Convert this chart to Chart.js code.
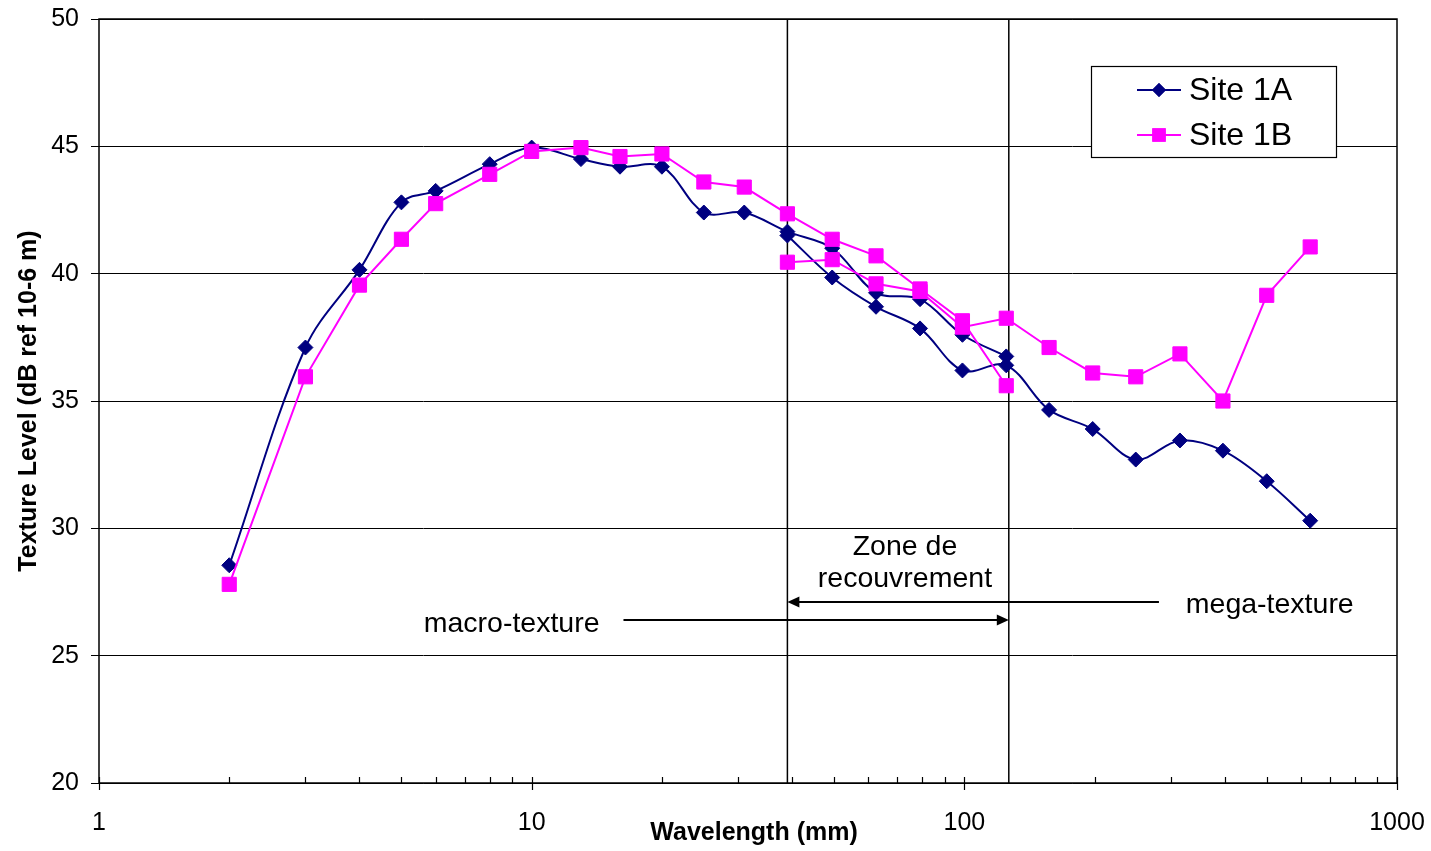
<!DOCTYPE html>
<html><head><meta charset="utf-8">
<script src="https://cdn.jsdelivr.net/npm/chart.js@4"></script>
<style>html,body{margin:0;padding:0;background:#fff;overflow:hidden}</style>
</head><body>
<canvas id="c" width="1431" height="851" style="width:1431px;height:851px;display:block"></canvas>
<script>
// ---- data ----
const waveMacro = [2, 3, 4, 5, 6, 8, 10, 13, 16, 20, 25, 31, 39, 49.5, 62.5, 79, 99, 125];
const site1A_macro = [28.55, 37.1, 40.15, 42.8, 43.25, 44.3, 44.95, 44.5, 44.2, 44.2, 42.4, 42.4, 41.65, 41.0, 39.25, 39.0, 37.6, 36.75];
const site1B_macro = [27.8, 35.95, 39.55, 41.35, 42.75, 43.9, 44.8, 44.95, 44.6, 44.7, 43.6, 43.4, 42.35, 41.35, 40.7, 39.4, 38.15, 35.6];
const waveMega = [39, 49.5, 62.5, 79, 99, 125, 157, 198, 249, 315, 396, 500, 630];
const site1A_mega = [41.5, 39.85, 38.7, 37.85, 36.2, 36.4, 34.65, 33.9, 32.7, 33.45, 33.05, 31.85, 30.3];
const site1B_mega = [40.45, 40.55, 39.6, 39.3, 37.9, 38.25, 37.1, 36.1, 35.95, 36.85, 35.0, 39.15, 41.05];
const overlapBounds = [39, 126.7];
const xMajorTicks = [1, 10, 100, 1000];
const yTicks = [20, 25, 30, 35, 40, 45, 50];
const seriesNames = ['Site 1A', 'Site 1B'];

const FONT = "'Liberation Sans', Arial, sans-serif";
const C1A = '#000080', C1B = '#FF00FF';

function pts(xs, ys) { return xs.map((x, i) => ({x: x, y: ys[i]})); }

const styleA = {borderColor: C1A, backgroundColor: C1A, borderWidth: 2, pointStyle: 'rectRot', pointRadius: 7.5, pointBorderWidth: 1, pointBorderColor: C1A, tension: 0.35, order: 2};
const styleB = {borderColor: C1B, backgroundColor: C1B, borderWidth: 2, pointStyle: 'rect', pointRadius: 10, pointBorderWidth: 1, pointBorderColor: C1B, tension: 0, order: 1};

const datasets = [
  Object.assign({label: seriesNames[0], data: pts(waveMacro, site1A_macro)}, styleA),
  Object.assign({label: seriesNames[0] + ' mega', data: pts(waveMega, site1A_mega)}, styleA),
  Object.assign({label: seriesNames[1], data: pts(waveMacro, site1B_macro)}, styleB),
  Object.assign({label: seriesNames[1] + ' mega', data: pts(waveMega, site1B_mega)}, styleB),
];
overlapBounds.forEach((b, i) => datasets.push({
  label: 'bound' + i, data: [{x: b, y: 20}, {x: b, y: 50}],
  borderColor: '#000', borderWidth: 1.5, pointRadius: 0, tension: 0, order: 5
}));

// annotation anchors in data units
const notes = {
  zone1: {text: 'Zone de', x: 72.9, y: 28.96},
  zone2: {text: 'recouvrement', x: 72.9, y: 27.71},
  macro: {text: 'macro-texture', x: 14.35, y: 25.94},
  mega: {text: 'mega-texture', x: 325, y: 26.68},
  megaArrow: {x0: 281.7, x1: 39.0, y: 27.09},
  macroArrow: {x0: 16.3, x1: 126.7, y: 26.40}
};

function arrow(ctx, x0, x1, y) {
  ctx.beginPath(); ctx.moveTo(x0, y); ctx.lineTo(x1 - Math.sign(x1 - x0) * 8, y); ctx.stroke();
  const d = Math.sign(x1 - x0);
  ctx.beginPath(); ctx.moveTo(x1, y); ctx.lineTo(x1 - d * 12, y - 5.5); ctx.lineTo(x1 - d * 12, y + 5.5); ctx.closePath(); ctx.fill();
}

function noPad(s) { s.paddingTop = 0; s.paddingBottom = 0; s.paddingLeft = 0; s.paddingRight = 0; }

const decor = {
  id: 'decor',
  afterDatasetsDraw(chart) {
    const ctx = chart.ctx, a = chart.chartArea, xs = chart.scales.x, ys = chart.scales.y;
    ctx.save();
    // frame
    ctx.strokeStyle = '#000'; ctx.lineWidth = 1.5;
    ctx.strokeRect(a.left, a.top, a.right - a.left, a.bottom - a.top);
    // x ticks: major crossing, minor inside
    ctx.lineWidth = 1.2;
    ctx.beginPath();
    for (let d = 1; d < 1000; d *= 10) {
      for (let m = 2; m <= 9; m++) {
        const px = Math.round(xs.getPixelForValue(d * m)) + 0.5;
        ctx.moveTo(px, a.bottom); ctx.lineTo(px, a.bottom - 6);
      }
    }
    xMajorTicks.forEach(v => {
      const px = Math.round(xs.getPixelForValue(v)) + 0.5;
      ctx.moveTo(px, a.bottom - 6); ctx.lineTo(px, a.bottom + 7);
    });
    ctx.stroke();
    // annotations
    ctx.fillStyle = '#000'; ctx.font = '28.5px ' + FONT; ctx.textBaseline = 'alphabetic';
    ctx.textAlign = 'center';
    ctx.fillText(notes.zone1.text, xs.getPixelForValue(notes.zone1.x), ys.getPixelForValue(notes.zone1.y));
    ctx.fillText(notes.zone2.text, xs.getPixelForValue(notes.zone2.x), ys.getPixelForValue(notes.zone2.y));
    ctx.textAlign = 'right';
    ctx.fillText(notes.macro.text, xs.getPixelForValue(notes.macro.x), ys.getPixelForValue(notes.macro.y));
    ctx.textAlign = 'left';
    ctx.fillText(notes.mega.text, xs.getPixelForValue(notes.mega.x), ys.getPixelForValue(notes.mega.y));
    ctx.strokeStyle = '#000'; ctx.lineWidth = 2;
    arrow(ctx, xs.getPixelForValue(notes.megaArrow.x0), xs.getPixelForValue(notes.megaArrow.x1), Math.round(ys.getPixelForValue(notes.megaArrow.y)));
    arrow(ctx, xs.getPixelForValue(notes.macroArrow.x0), xs.getPixelForValue(notes.macroArrow.x1), Math.round(ys.getPixelForValue(notes.macroArrow.y)));
    // legend
    const lx = a.right - 306, ly = a.top + 47, lw = 245, lh = 91;
    ctx.fillStyle = '#fff'; ctx.fillRect(lx, ly, lw, lh);
    ctx.strokeStyle = '#000'; ctx.lineWidth = 1.2; ctx.strokeRect(lx + 0.5, ly + 0.5, lw, lh);
    const entries = [datasets[0], datasets[2]];
    entries.forEach((ds, i) => {
      const cy = ly + 24 + i * 45;
      ctx.strokeStyle = ds.borderColor; ctx.lineWidth = 2;
      ctx.beginPath(); ctx.moveTo(lx + 46, cy); ctx.lineTo(lx + 90, cy); ctx.stroke();
      ctx.fillStyle = ds.backgroundColor;
      Chart.helpers.drawPoint(ctx, {pointStyle: ds.pointStyle, radius: ds.pointStyle === 'rect' ? 9.5 : 7, borderWidth: 0, rotation: 0}, lx + 68, cy);
      ctx.fill();
      ctx.fillStyle = '#000'; ctx.font = '32px ' + FONT; ctx.textAlign = 'left'; ctx.textBaseline = 'middle';
      ctx.fillText(ds.label, lx + 98, cy + 1);
    });
    // x axis title (drawn here for exact horizontal placement)
    ctx.fillStyle = '#000'; ctx.font = 'bold 25px ' + FONT; ctx.textAlign = 'center'; ctx.textBaseline = 'middle';
    ctx.fillText('Wavelength (mm)', xs.getPixelForValue(Math.pow(10, 1.514)), a.bottom + 50);
    ctx.restore();
  }
};

new Chart(document.getElementById('c'), {
  type: 'line',
  data: {datasets: datasets},
  plugins: [decor],
  options: {
    responsive: false, animation: false, devicePixelRatio: 1,
    layout: {padding: {left: 0, right: 34, top: 19, bottom: 0}},
    plugins: {legend: {display: false}, tooltip: {enabled: false}},
    elements: {point: {hoverRadius: 0}},
    scales: {
      x: {
        type: 'logarithmic', min: 1, max: 1000,
        afterFit(s) { s.height = 68; noPad(s); },
        afterBuildTicks(s) { s.ticks = xMajorTicks.map(v => ({value: v})); },
        grid: {display: true, drawOnChartArea: false, drawTicks: true, tickLength: 7, color: 'rgba(0,0,0,0)'},
        border: {display: false},
        ticks: {color: '#000', font: {family: FONT, size: 25}, padding: 18, maxRotation: 0, autoSkip: false,
          callback: v => String(v)},
        title: {display: false}
      },
      y: {
        type: 'linear', min: 20, max: 50,
        afterFit(s) { s.width = 99; noPad(s); },
        afterBuildTicks(s) { s.ticks = yTicks.map(v => ({value: v})); },
        grid: {color: '#000', lineWidth: 1, drawTicks: true, tickLength: 8, tickColor: '#000'},
        border: {display: false},
        ticks: {color: '#000', font: {family: FONT, size: 25}, padding: 12},
        title: {display: true, text: 'Texture Level (dB ref 10-6 m)', color: '#000', font: {family: FONT, size: 25, weight: 'bold'}, padding: {top: 14, bottom: 0}}
      }
    }
  }
});
</script>
</body></html>
